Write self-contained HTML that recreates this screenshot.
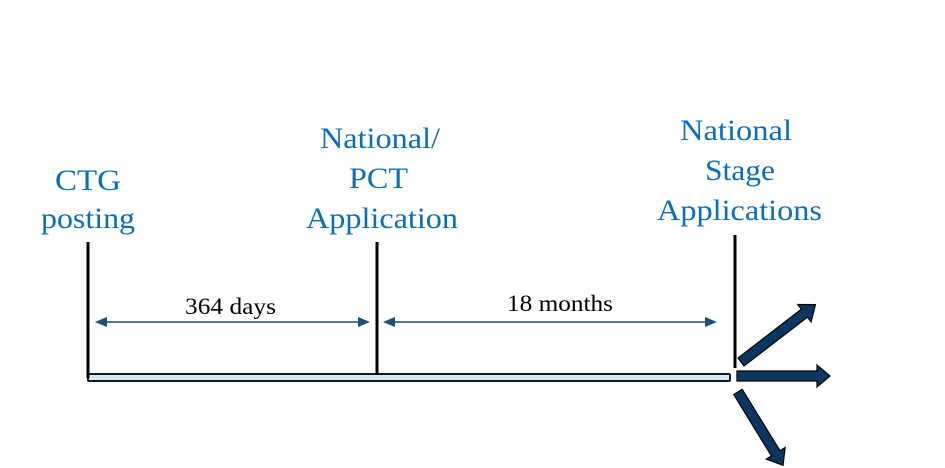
<!DOCTYPE html>
<html><head><style>body{margin:0;background:#fff}svg{display:block}</style></head>
<body>
<svg width="945" height="468" viewBox="0 0 945 468" xmlns="http://www.w3.org/2000/svg">
<g font-family="Liberation Serif, serif" font-size="30" fill="#0a6ebd" lengthAdjust="spacingAndGlyphs">
<text x="55" y="190" textLength="66" lengthAdjust="spacingAndGlyphs">CTG</text>
<text x="41" y="228" textLength="94" lengthAdjust="spacingAndGlyphs">posting</text>
<text x="320" y="148" textLength="120" lengthAdjust="spacingAndGlyphs">National/</text>
<text x="349" y="188" textLength="59" lengthAdjust="spacingAndGlyphs">PCT</text>
<text x="306" y="228" textLength="152" lengthAdjust="spacingAndGlyphs">Application</text>
<text x="680" y="140" textLength="112" lengthAdjust="spacingAndGlyphs">National</text>
<text x="705" y="180" textLength="70" lengthAdjust="spacingAndGlyphs">Stage</text>
<text x="657" y="220" textLength="165" lengthAdjust="spacingAndGlyphs">Applications</text>
</g>
<g font-family="Liberation Serif, serif" font-size="23" fill="#000">
<text x="185" y="314" textLength="91" lengthAdjust="spacingAndGlyphs">364 days</text>
<text x="507" y="311" textLength="106" lengthAdjust="spacingAndGlyphs">18 months</text>
</g>
<rect x="88" y="374" width="642" height="7" rx="1" fill="#dce6f2" stroke="#0d1b2a" stroke-width="2"/>
<g stroke="#000" stroke-width="3">
<line x1="88" y1="242" x2="88" y2="378"/>
<line x1="377" y1="242" x2="377" y2="375"/>
<line x1="735" y1="235" x2="735" y2="368"/>
</g>
<g stroke="#1f4e79" stroke-width="1.5">
<line x1="100" y1="322" x2="362" y2="322"/>
<line x1="390" y1="322" x2="710" y2="322"/>
</g>
<g fill="#1f4e79">
<polygon points="95,322 107,317 107,327"/>
<polygon points="370,322 358,317 358,327"/>
<polygon points="383,322 395,317 395,327"/>
<polygon points="717,322 705,317 705,327"/>
</g>
<g fill="#0a3660" stroke="#000" stroke-width="1.2">
<polygon points="737,371 817,371 817,365 830,376 817,387 817,381 737,381"/>
<g transform="translate(741,362) rotate(-37.6)">
<polygon points="0,-5 80,-5 80,-11 94,0 80,11 80,5 0,5"/>
</g>
<g transform="translate(738,392) rotate(58.4)">
<polygon points="0,-5 72,-5 72,-11 86,0 72,11 72,5 0,5"/>
</g>
</g>
</svg>
</body></html>
